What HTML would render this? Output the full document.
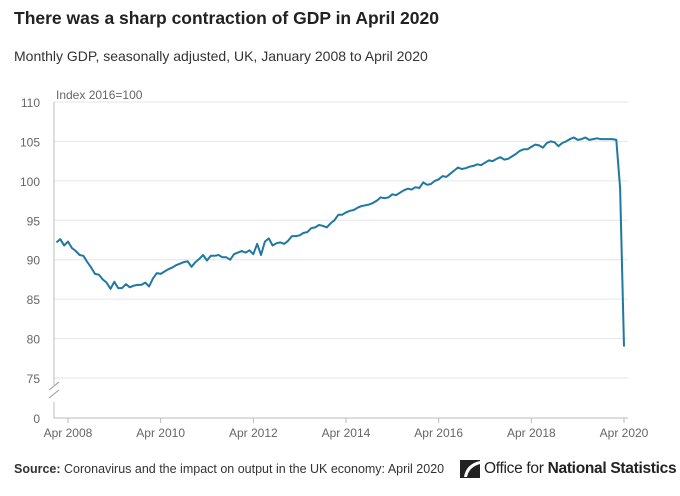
<!DOCTYPE html>
<html><head><meta charset="utf-8"><style>
body{margin:0;width:680px;height:496px;background:#fff;font-family:"Liberation Sans",sans-serif;overflow:hidden;position:relative}
.t{position:absolute;left:14px;top:8px;font-size:17.5px;font-weight:bold;color:#222}
.s{position:absolute;left:14px;top:48px;font-size:14px;color:#333}
.f{position:absolute;left:14px;top:462px;font-size:12.5px;color:#333}
.logo{position:absolute;left:460px;top:460px;font-size:15.5px;color:#222;display:flex;align-items:center;white-space:nowrap;letter-spacing:-0.3px}
</style></head><body>
<div class="t">There was a sharp contraction of GDP in April 2020</div>
<div class="s">Monthly GDP, seasonally adjusted, UK, January 2008 to April 2020</div>
<svg id="c" width="680" height="496" style="position:absolute;left:0;top:0"></svg>
<div class="f"><b>Source:</b> Coronavirus and the impact on output in the UK economy: April 2020</div>
<div class="logo"><svg width="20" height="18" style="margin-right:4px"><rect x="0" y="0" width="20" height="18" fill="#222"/><path d="M20 1 Q6 4 4 17 L20 17Z" fill="#fff"/><path d="M20 4 Q9 7 7 17 L20 17Z" fill="#222"/></svg>Office for&nbsp;<b>National Statistics</b></div>
<script>
const values=[92.2,92.6,91.8,92.3,91.5,91.1,90.6,90.5,89.7,89.0,88.2,88.1,
87.5,87.1,86.3,87.2,86.4,86.4,86.9,86.5,86.7,86.8,86.8,87.1,
86.6,87.6,88.3,88.2,88.5,88.8,89.0,89.3,89.5,89.7,89.8,89.1,
89.7,90.1,90.6,89.9,90.5,90.5,90.6,90.3,90.3,90.0,90.7,90.9,
91.1,90.9,91.2,90.7,92.0,90.6,92.3,92.7,91.8,92.1,92.2,92.0,
92.4,93.0,93.0,93.1,93.4,93.5,94.0,94.1,94.4,94.3,94.1,94.6,
95.0,95.7,95.7,96.0,96.2,96.3,96.6,96.8,96.9,97.0,97.2,97.5,
97.9,97.8,97.9,98.3,98.2,98.5,98.8,99.0,98.9,99.2,99.1,99.8,
99.5,99.6,100.0,100.2,100.6,100.5,100.9,101.3,101.7,101.5,101.6,101.8,
101.9,102.1,102.0,102.3,102.6,102.5,102.8,103.0,102.7,102.8,103.1,103.4,
103.8,104.0,104.0,104.3,104.6,104.5,104.2,104.8,105.0,104.9,104.4,104.8,
105.0,105.3,105.5,105.2,105.3,105.5,105.2,105.3,105.4,105.3,105.3,105.3,
105.3,105.2,99.1,79.0];
const yTicks=[75,80,85,90,95,100,105,110];
const xTickLabels=["Apr 2008","Apr 2010","Apr 2012","Apr 2014","Apr 2016","Apr 2018","Apr 2020"];
const xTickMonths=[3,27,51,75,99,123,147];
const svg=document.getElementById('c'),NS="http://www.w3.org/2000/svg";
const x=m=>56.4+m*(624-56.4)/147;
const y=v=>378-(v-75)*(378-102)/35;
function mk(t,a,txt){const e=document.createElementNS(NS,t);for(const k in a)e.setAttribute(k,a[k]);if(txt!==undefined)e.textContent=txt;svg.appendChild(e);return e;}
yTicks.forEach(v=>{
 const g=mk('line',{x1:54,x2:628,y1:y(v),y2:y(v),stroke:'#e6e6e6','stroke-width':1});
 
 
 const t=mk('text',{x:40,y:y(v)+5,'text-anchor':'end','font-size':12,fill:'#666'},v);
 
 
});
const z=mk('text',{x:40,y:423,'text-anchor':'end','font-size':12,fill:'#666'},'0');


const ax=mk('path',{d:'M54 102 V385 M54 402 V418 H628',stroke:'#bbb',fill:'none','stroke-width':1});


const br=mk('path',{d:'M49 390 L59 382 M49 398 L59 390',stroke:'#999',fill:'none','stroke-width':1});


const yt=mk('text',{x:56,y:99,'font-size':12,fill:'#666'},'Index 2016=100');


xTickMonths.forEach((m,i)=>{
 const l=mk('line',{x1:x(m),x2:x(m),y1:418,y2:423,stroke:'#bbb'});
 
 
 const t=mk('text',{x:x(m),y:437,'text-anchor':'middle','font-size':12,fill:'#666'},xTickLabels[i]);
 
 
});
const p=mk('path',{d:values.map((v,i)=>(i?'L':'M')+x(i).toFixed(1)+' '+y(v).toFixed(1)).join(''),stroke:'#1f78a0',fill:'none','stroke-width':2,'stroke-linejoin':'round'});


</script>
</body></html>
